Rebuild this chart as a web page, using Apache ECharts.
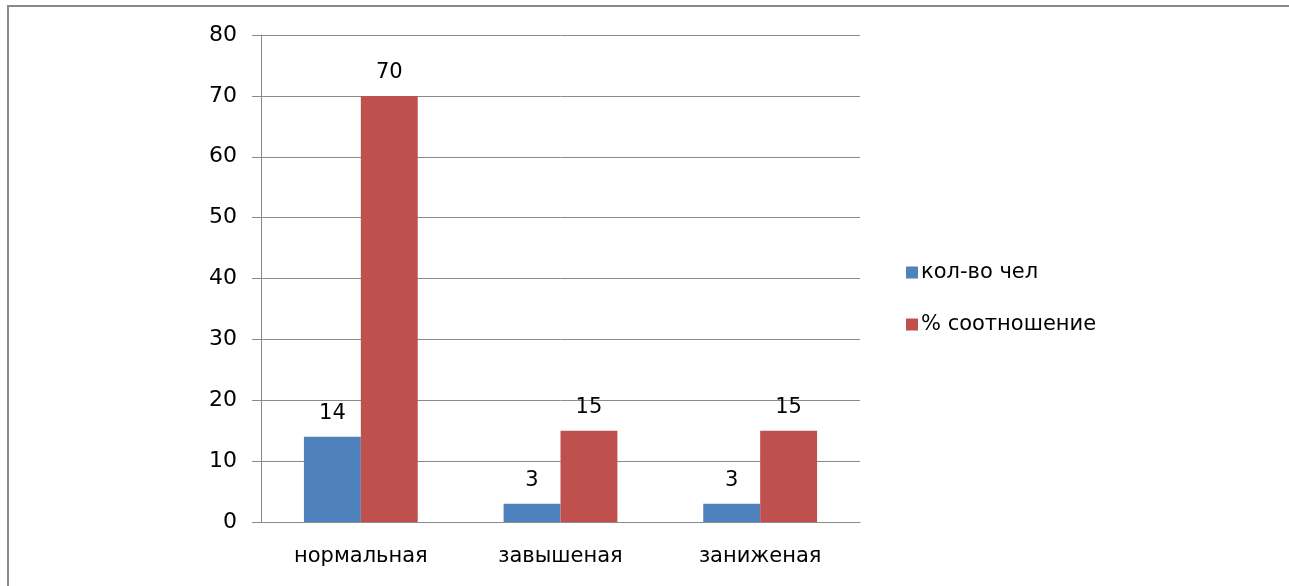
<!DOCTYPE html>
<html lang="ru">
<head>
    <meta charset="UTF-8">
    <title>Самооценка</title>
    <script type="text/javascript" src="https://cdnjs.cloudflare.com/ajax/libs/echarts/6.0.0/echarts.min.js"></script>
    <style>
        html, body { margin: 0; padding: 0; background: #fff; }
        #wrap { position: relative; width: 1289px; height: 586px; }
        #main { width: 1289px; height: 586px; }
        #frame {
            position: absolute; left: 7px; top: 5px; right: 0; bottom: 0;
            border-top: 2px solid #8a8a8a; border-left: 2px solid #8a8a8a;
            pointer-events: none;
        }
    </style>
</head>
<body>
<div id="wrap">
    <div id="main"></div>
    <div id="frame"></div>
</div>
<script type="text/javascript">
    const categories = ['нормальная', 'завышеная', 'заниженая'];
    const seriesNames = ['кол-во чел', '% соотношение'];
    const countValues = [14, 3, 3];
    const percentValues = [70, 15, 15];
    const colors = ['#4F81BD', '#C0504D'];

    const font = 'DejaVu Sans';
    const gray = '#8a8a8a';

    const myChart = echarts.init(document.getElementById('main'));
    // bars side by side, labels on top
    const labelStyle = {
        show: true,
        position: 'top',
        distance: 13,
        color: '#000',
        fontFamily: font,
        fontSize: 21
    };
    option = {
        animation: false,
        color: colors,
        grid: {
            left: 261,
            right: 429,
            top: 35,
            bottom: 64
        },
        legend: {
            orient: 'vertical',
            left: 901,
            top: 257,
            itemWidth: 12,
            itemHeight: 12,
            itemGap: 31,
            icon: 'rect',
            textStyle: {
                fontFamily: font,
                fontSize: 21,
                color: '#000',
                padding: [0, 0, 0, -2]
            },
            data: seriesNames
        },
        xAxis: {
            type: 'category',
            data: categories,
            axisLine: { lineStyle: { color: gray } },
            axisTick: { length: 6, lineStyle: { color: gray } },
            axisLabel: {
                margin: 24,
                color: '#000',
                fontFamily: font,
                fontSize: 21
            }
        },
        yAxis: {
            type: 'value',
            min: 0,
            max: 80,
            interval: 10,
            axisLine: { show: true, lineStyle: { color: gray } },
            axisTick: { show: true, length: 9, lineStyle: { color: gray } },
            splitLine: { lineStyle: { color: gray } },
            axisLabel: {
                margin: 24,
                color: '#000',
                fontFamily: font,
                fontSize: 22
            }
        },
        series: [{
            name: seriesNames[0],
            type: 'bar',
            data: countValues,
            barGap: '0%',
            barCategoryGap: '43%',
            label: labelStyle
        }, {
            name: seriesNames[1],
            type: 'bar',
            data: percentValues,
            label: labelStyle
        }]
    };
    myChart.setOption(option);
</script>
</body>
</html>
